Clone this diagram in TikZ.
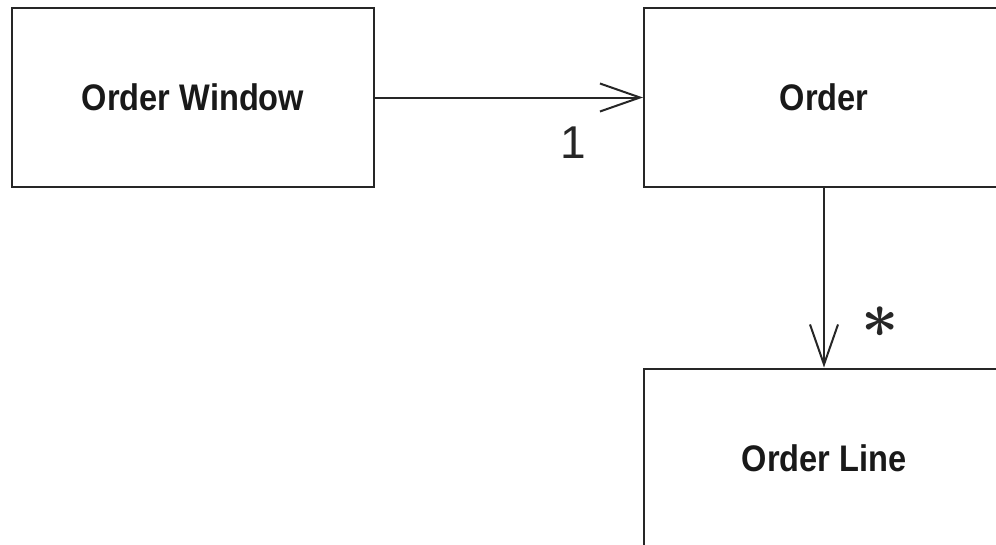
\documentclass[tikz,border=0pt]{standalone}
\usepackage{fontspec}
\setmainfont{Liberation Sans}
\newfontfamily\boxfont[FakeStretch=0.88]{Liberation Sans}
\usetikzlibrary{arrows.meta}
\begin{document}
\begin{tikzpicture}[x=1pt,y=-1pt,
  cls/.style={draw=black!85,line width=2pt,inner sep=0pt,minimum width=360pt,minimum height=179pt,
    font=\boxfont\bfseries\fontsize{37}{40}\selectfont,text=black!90},
  assoc/.style={draw=black!85,line width=2pt,-{Straight Barb[length=40pt,width=28pt,line width=2pt]}},
  mult/.style={inner sep=0pt,text=black!85}]
\useasboundingbox (0,0) rectangle (996,544);
\node[cls,minimum width=362pt] (ow) at (193,97.5) {Order Window};
\node[cls] (order) at (824,97.5) {Order};
\node[cls] (line) at (824,458) {Order Line};
\draw[assoc] (ow.east) -- (order.west);
\draw[assoc] (order.south) -- (line.north);
\node[mult,font=\fontsize{46}{48}\selectfont] (one) at (573,143) {1};
\node[mult] (star) at (880,322) {\scalebox{6.5}{\boldmath$\ast$}};
\end{tikzpicture}
\end{document}
